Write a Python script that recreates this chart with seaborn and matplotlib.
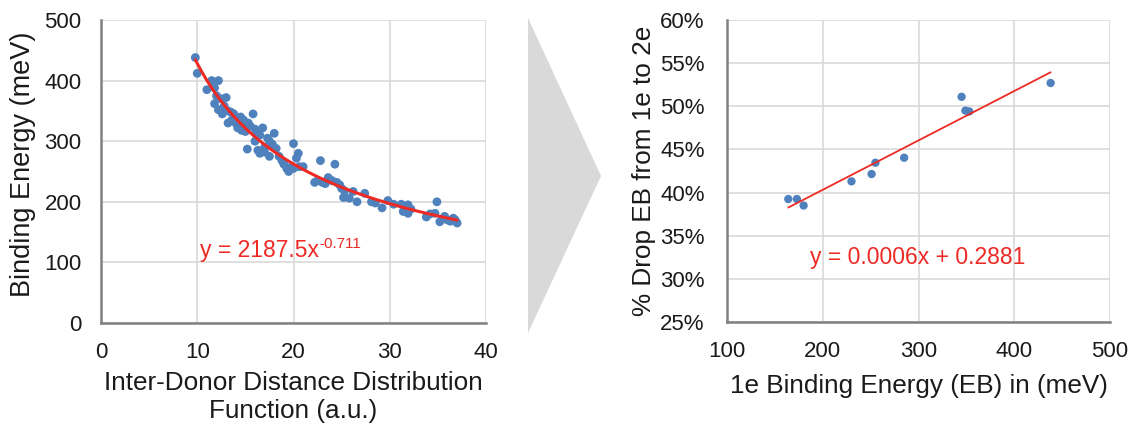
import numpy as np
import pandas as pd
import matplotlib
matplotlib.use("Agg")
import matplotlib.pyplot as plt
from matplotlib.patches import Polygon
import seaborn as sns

# ---- data: left panel (inter-donor distance vs binding energy) ----
dist = [9.8, 10.0, 11.0, 11.5, 12.2, 11.8, 12.0, 11.8, 12.2, 12.5, 13.0, 12.8, 12.6, 13.2,
        13.5, 13.8, 13.2, 13.6, 14.0, 14.2, 14.5, 14.8, 15.0, 15.3, 14.6, 15.0, 15.5, 15.8,
        15.2, 16.0, 16.2, 16.5, 16.8, 16.0, 16.3, 16.5, 17.0, 17.3, 17.5, 17.0, 17.8, 18.0,
        18.2, 17.5, 18.5, 18.8, 19.0, 19.3, 19.8, 19.5, 20.0, 20.3, 20.5, 20.0, 20.6, 21.0,
        22.2, 22.5, 22.8, 23.0, 23.3, 23.6, 24.0, 24.3, 24.5, 24.8, 25.0, 25.3, 25.2, 25.8,
        26.2, 26.6, 27.4, 28.1, 28.5, 29.2, 29.8, 30.4, 31.2, 31.4, 31.9, 31.9, 32.2, 33.8,
        34.2, 34.9, 34.7, 35.2, 35.7, 35.5, 36.0, 36.3, 36.6, 36.8, 37.0]
energy = [438, 412, 385, 400, 400, 388, 375, 362, 352, 370, 372, 358, 345, 350,
          348, 345, 330, 335, 330, 322, 340, 335, 328, 330, 318, 316, 325, 345,
          287, 320, 315, 310, 322, 300, 285, 280, 290, 305, 300, 282, 295, 313,
          288, 275, 275, 268, 262, 255, 258, 250, 296, 272, 280, 255, 258, 258,
          232, 235, 268, 232, 230, 240, 235, 262, 232, 228, 222, 218, 207, 206,
          217, 200, 214, 200, 198, 190, 202, 196, 196, 184, 195, 181, 188, 175,
          180, 200, 181, 167, 176, 172, 170, 168, 173, 170, 165]

# ---- data: right panel (1e binding energy vs % drop) ----
eb1 = [164, 173, 180, 230, 251, 255, 285, 345, 349, 353, 438]
drop = [0.3925, 0.3925, 0.385, 0.413, 0.4215, 0.4346, 0.4404, 0.511, 0.495, 0.494, 0.527]

left_eq_base = "y = 2187.5x"
left_eq_exp = "-0.711"
right_eq = "y = 0.0006x + 0.2881"

df_l = pd.DataFrame({"dist": dist, "energy": energy})
df_r = pd.DataFrame({"eb": eb1, "drop": drop})

sns.set_theme(style="white")
plt.rcParams["font.family"] = ["Liberation Sans", "DejaVu Sans"]

fig = plt.figure(figsize=(11.33, 4.25), dpi=100)
W, H = 1133, 425

blue = "#4F81BD"
red = "#EE2A24"
grid_c = "#D9D9D9"
spine_c = "#808080"
txt_c = "#1a1a1a"
TICK = 16
LAB = 18.8
EQ = 16.5

# ---------- left panel ----------
axl = fig.add_axes([101 / W, 1 - 323 / H, 385 / W, 303 / H])
sns.scatterplot(data=df_l, x="dist", y="energy", ax=axl, color=blue, s=40,
                edgecolor="none", zorder=3)
# power-law trend line fitted from data
b, loga = np.polyfit(np.log(df_l["dist"]), np.log(df_l["energy"]), 1)
xx = np.linspace(min(dist), max(dist), 200)
fit_l = pd.DataFrame({"x": xx, "y": np.exp(loga) * xx ** b})
sns.lineplot(data=fit_l, x="x", y="y", ax=axl, color=red, lw=2.2, zorder=4)
axl.set_xlim(0, 40)
axl.set_ylim(0, 500)
axl.set_xticks([0, 10, 20, 30, 40])
axl.set_yticks([0, 100, 200, 300, 400, 500])
axl.grid(True, color=grid_c, lw=1.2)
axl.set_axisbelow(True)
for side in ["left", "bottom"]:
    axl.spines[side].set_color(spine_c)
    axl.spines[side].set_linewidth(1.8)
for side in ["top", "right"]:
    axl.spines[side].set_visible(False)
axl.tick_params(axis="y", labelsize=TICK, length=0, pad=14, colors=txt_c)
axl.tick_params(axis="x", labelsize=TICK, length=0, pad=14, colors=txt_c)
axl.set_xlabel("Inter-Donor Distance Distribution\nFunction (a.u.)", fontsize=LAB,
               color=txt_c, linespacing=1.2)
axl.xaxis.set_label_coords(0.5, -(371 - 323) / 303)
axl.set_ylabel("Binding Energy (meV)", fontsize=19.5, color=txt_c)
axl.yaxis.set_label_coords(-(101 - 36) / 385, 0.525)
t1 = axl.text(10.3, 120, left_eq_base, color=red, fontsize=EQ, va="center", ha="left")
fig.canvas.draw()
bb = t1.get_window_extent()
fig.text(bb.x1 / W, (bb.y1 - 12) / H, left_eq_exp, color=red, fontsize=11,
         va="bottom", ha="left")

# ---------- right panel ----------
axr = fig.add_axes([727 / W, 1 - 322 / H, 383 / W, 302 / H])
sns.scatterplot(data=df_r, x="eb", y="drop", ax=axr, color=blue, s=36,
                edgecolor="none", zorder=3)
m, c = np.polyfit(df_r["eb"], df_r["drop"], 1)
xr = np.linspace(min(eb1), max(eb1), 50)
fit_r = pd.DataFrame({"x": xr, "y": m * xr + c})
sns.lineplot(data=fit_r, x="x", y="y", ax=axr, color=red, lw=1.3, zorder=4)
axr.set_xlim(100, 500)
axr.set_ylim(0.25, 0.60)
axr.set_xticks([100, 200, 300, 400, 500])
yt = [0.25, 0.30, 0.35, 0.40, 0.45, 0.50, 0.55, 0.60]
axr.set_yticks(yt)
axr.set_yticklabels([f"{int(round(v * 100))}%" for v in yt])
axr.grid(True, color=grid_c, lw=1.2)
axr.set_axisbelow(True)
for side in ["left", "bottom"]:
    axr.spines[side].set_color(spine_c)
    axr.spines[side].set_linewidth(1.8)
for side in ["top", "right"]:
    axr.spines[side].set_visible(False)
axr.tick_params(axis="y", labelsize=TICK, length=0, pad=16, colors=txt_c)
axr.tick_params(axis="x", labelsize=TICK, length=0, pad=14, colors=txt_c)
axr.set_xlabel("1e Binding Energy (EB) in (meV)", fontsize=LAB, color=txt_c, labelpad=8)
axr.set_ylabel("% Drop EB from 1e to 2e", fontsize=LAB, color=txt_c, labelpad=3)
axr.text(186.7, 0.325, right_eq, color=red, fontsize=EQ, va="center", ha="left")

# ---------- arrow triangle ----------
tri = Polygon([(528 / W, 1 - 18 / H), (528 / W, 1 - 333 / H), (601 / W, 1 - 176 / H)],
              closed=True, transform=fig.transFigure, facecolor="#D9D9D9",
              edgecolor="none")
fig.patches.append(tri)

fig.savefig("out.png", dpi=100, facecolor="white")
